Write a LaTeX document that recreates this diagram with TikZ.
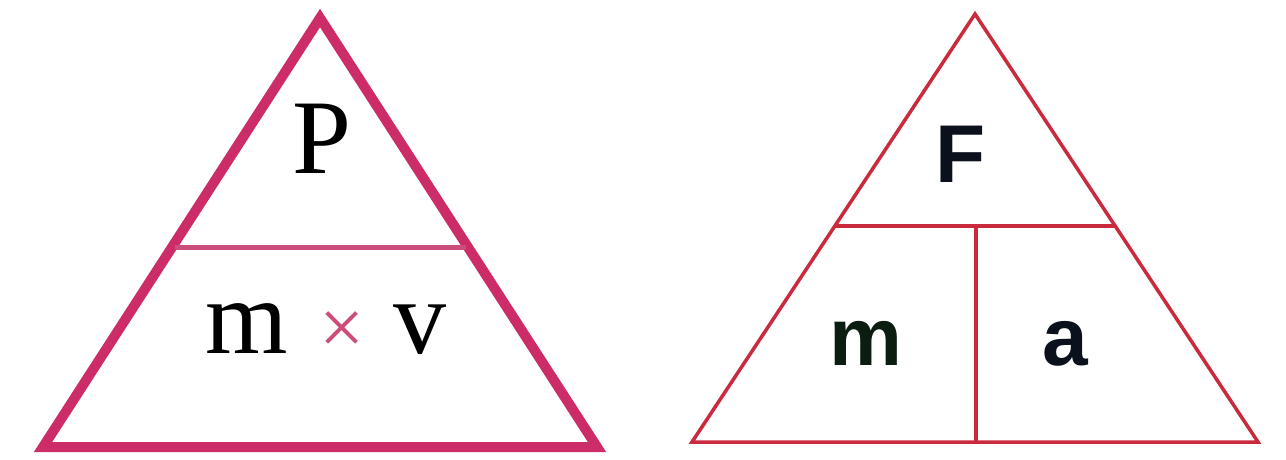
\documentclass[tikz,border=0pt]{standalone}
\usepackage{fontspec}
\setmainfont{Liberation Serif}
\newfontfamily\arialfont{Liberation Sans}
\definecolor{pinkline}{HTML}{CC2D69}
\definecolor{pinkdiv}{HTML}{CC4D7C}
\definecolor{redline}{HTML}{C92B3D}
\definecolor{darkink}{HTML}{0B111C}
\definecolor{greenink}{HTML}{0B1D10}
\tikzset{
  thickedge/.style={draw=pinkline,line width=10pt,line join=miter},
  thickdiv/.style={draw=pinkdiv,line width=5pt},
  thinedge/.style={draw=redline,line width=3.5pt,line join=miter},
  serifbig/.style={inner sep=0pt,anchor=base,font=\fontsize{106}{106}\selectfont,text=black},
  sansbig/.style={inner sep=0pt,anchor=base,font=\arialfont\bfseries\fontsize{82}{82}\selectfont},
}
\begin{document}
\begin{tikzpicture}[x=1pt,y=-1pt]
\useasboundingbox (0,0) rectangle (1286,459);
% left triangle
\coordinate (LA) at (320,18);
\coordinate (LB) at (43,447);
\coordinate (LC) at (597,447);
\draw[thickedge] (LA) -- (LB) -- (LC) -- cycle;
\coordinate (LD1) at (175,247);
\coordinate (LD2) at (466,247);
\draw[thickdiv] (LD1) -- (LD2);
\node[serifbig] (P) at (322,173) {P};
\node[serifbig] (m1) at (247,353) {m};
\node[inner sep=0pt,font=\fontsize{80}{80}\selectfont,text=pinkdiv] (times) at (342,333) {×};
\node[serifbig] (v) at (420,353) {v};
% right triangle
\coordinate (RA) at (975,14);
\coordinate (RB) at (692,442);
\coordinate (RC) at (1258,442);
\draw[thinedge] (RA) -- (RB) -- (RC) -- cycle;
\coordinate (RD1) at (834,226);
\coordinate (RD2) at (1115,226);
\coordinate (RV) at (976,442);
\coordinate (RT) at (976,226);
\draw[thinedge] (RD1) -- (RD2);
\draw[thinedge] (RT) -- (RV);
\node[sansbig,text=darkink] (F) at (961,182) {F};
\node[sansbig,text=greenink] (m2) at (866,365) {m};
\node[sansbig,text=darkink] (a) at (1065,365) {a};
\end{tikzpicture}
\end{document}
